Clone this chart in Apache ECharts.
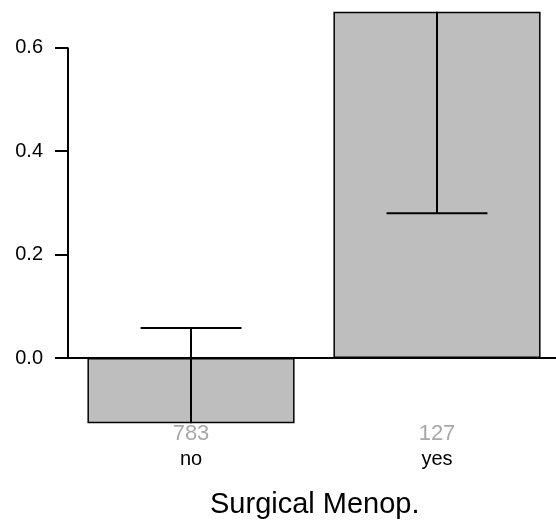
<!DOCTYPE html>
<html>
<head>
<meta charset="utf-8">
<script src="https://cdn.jsdelivr.net/npm/echarts@6/dist/echarts.min.js"></script>
<style>html,body{margin:0;padding:0;background:#fff;}#c{width:556px;height:521px;}</style>
</head>
<body>
<div id="c"></div>
<script>
const categories = ['no', 'yes'];
const counts = [783, 127];
const means = [-0.126, 0.669];
const errEnds = [0.058, 0.280];
const yTicks = [0, 0.2, 0.4, 0.6];
const axisTitle = 'Surgical Menop.';

const FONT = '"Liberation Sans", Arial, sans-serif';
const chart = echarts.init(document.getElementById('c'), null, {renderer: 'canvas'});

const errData = categories.map((c, i) => [i, means[i], errEnds[i]]);

chart.setOption({
  animation: false,
  backgroundColor: '#fff',
  title: {
    text: axisTitle, left: 205, top: 485,
    textStyle: {fontFamily: FONT, fontSize: 29, fontWeight: 'normal', color: '#000'}
  },
  grid: {left: 68, right: -4, top: 1, bottom: 95.7, outerBoundsMode: 'none', containLabel: false},
  xAxis: {
    type: 'category', data: categories,
    axisLine: {show: false}, axisTick: {show: false},
    axisLabel: {
      margin: -2,
      formatter: (v, i) => '{n|' + counts[i] + '}\n{c|' + v + '}',
      rich: {
        n: {fontFamily: FONT, fontSize: 22, color: '#a8a8a8', lineHeight: 22},
        c: {fontFamily: FONT, fontSize: 20, color: '#000', lineHeight: 28}
      }
    }
  },
  yAxis: {
    type: 'value', min: -0.13, max: 0.69,
    axisLine: {show: false},
    splitLine: {show: false},
    axisTick: {show: true, length: 13, customValues: yTicks, lineStyle: {color: '#000', width: 2}},
    axisLabel: {margin: 25, customValues: yTicks, formatter: v => v.toFixed(1),
      fontFamily: FONT, fontSize: 20, color: '#000'}
  },
  series: [
    {
      type: 'bar', data: means, barCategoryGap: '15.8%',
      itemStyle: {color: '#bebebe', borderColor: '#000', borderWidth: 1.5}
    },
    {
      type: 'custom', data: errData, z: 5,
      renderItem: (params, api) => {
        const x = api.value(0);
        const p0 = api.coord([x, api.value(1)]);
        const p1 = api.coord([x, api.value(2)]);
        const band = api.size([1, 0])[0];
        const half = band * 0.205;
        return {type: 'group', children: [
          {type: 'line', shape: {x1: p0[0], y1: p0[1], x2: p1[0], y2: p1[1]}, style: {stroke: '#000', lineWidth: 2}},
          {type: 'line', shape: {x1: p1[0] - half, y1: p1[1], x2: p1[0] + half, y2: p1[1]}, style: {stroke: '#000', lineWidth: 2}}
        ]};
      }
    },
    {
      type: 'custom', data: [[0, yTicks[0], yTicks[yTicks.length - 1]]], z: 6, silent: true,
      renderItem: (params, api) => {
        const cs = params.coordSys;
        const yb = api.coord([0, api.value(1)])[1];
        const yt = api.coord([0, api.value(2)])[1];
        return {type: 'group', children: [
          {type: 'line', shape: {x1: cs.x, y1: yb, x2: cs.x, y2: yt}, style: {stroke: '#000', lineWidth: 2}},
          {type: 'line', shape: {x1: cs.x, y1: yb, x2: cs.x + cs.width, y2: yb}, style: {stroke: '#000', lineWidth: 2}}
        ]};
      }
    }
  ]
});
</script>
</body>
</html>
